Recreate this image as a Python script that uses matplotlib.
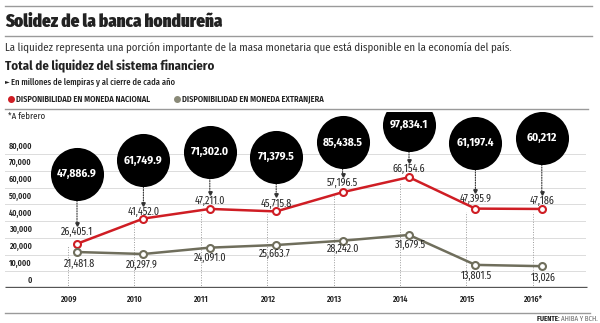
import matplotlib
matplotlib.use("Agg")
import matplotlib.pyplot as plt
from matplotlib.lines import Line2D
from matplotlib.transforms import offset_copy, blended_transform_factory

# liquidez del sistema financiero, millones de lempiras
years = ["2009", "2010", "2011", "2012", "2013", "2014", "2015", "2016*"]
nacional = [26405.1, 41452.0, 47211.0, 45715.8, 57196.5, 66154.6, 47395.9, 47186]
extranjera = [21481.8, 20297.9, 24091.0, 25663.7, 28242.0, 31679.5, 13801.5, 13026]
decimales = [1, 1, 1, 1, 1, 1, 1, 0]
yticks = [0, 10000, 20000, 30000, 40000, 50000, 60000, 70000, 80000]

total = [a + b for a, b in zip(nacional, extranjera)]

RED = "#cf1d24"
GREY = "#6f6e5c"
DARK = "#222222"
FONT = "Fira Sans Condensed"

W, H = 600, 323


def fx(x):
    return x / W


def fy(y):
    return 1 - y / H


def fmt(v, d):
    return "{:,.{}f}".format(v, d)


fig = plt.figure(figsize=(6, 3.23), dpi=100)
fig.patch.set_facecolor("white")

# separadores del encabezado y pie
for y, x0, x1 in [(6, 5, 592), (36, 5, 592), (109, 5, 588), (313, 5, 590)]:
    fig.add_artist(Line2D([fx(x0), fx(x1)], [fy(y), fy(y)], color="#9a9a9a", lw=1.0))

fig.text(fx(5), fy(22), "Solidez de la banca hondureña", family="Fira Sans Extra Condensed",
         weight="black", fontsize=13.3, color=DARK, va="center")
fig.text(fx(5), fy(47), "La liquidez representa una porción importante de la masa monetaria "
         "que está disponible en la economía del país.", family=FONT, fontsize=7.85,
         color="#333333", va="center")
fig.text(fx(5), fy(66), "Total de liquidez del sistema financiero", family=FONT,
         weight="bold", fontsize=9.2, color=DARK, va="center")
fig.text(fx(5), fy(82), "\u25ba", family="DejaVu Sans", fontsize=4.5, color=DARK, va="center")
fig.text(fx(11), fy(82), "En millones de lempiras y al cierre de cada año", family=FONT,
         weight="medium", fontsize=6.1, color=DARK, va="center")

# leyenda
for x, col, lab in [(11, RED, "DISPONIBILIDAD EN MONEDA NACIONAL"),
                    (177, "#8a8a78", "DISPONIBILIDAD EN MONEDA EXTRANJERA")]:
    fig.add_artist(Line2D([fx(x)], [fy(99)], marker="o", ms=4, color=col, mec=col))
    fig.text(fx(x + 5), fy(99), lab, family=FONT, weight="semibold", fontsize=6.05,
             color=DARK, va="center")

fig.text(fx(8), fy(116), "*A febrero", family=FONT, fontsize=6.3, color=DARK, va="center")

# pie
src = fig.text(fx(598), fy(319), "AHIBA Y BCH.", family=FONT, fontsize=5, color="#666666",
               ha="right", va="center")
fig.add_artist(plt.Annotation("FUENTE: ", xy=(0, 0.5), xycoords=src, family=FONT,
                              weight="bold", fontsize=5, color=DARK, ha="right", va="center"))

# area del grafico
y_bottom, y_top = 288, 112
px_per_unit = 16.75 / 10000
step = 66.4
x_first = 77
ax = fig.add_axes([fx(5), fy(y_bottom), fx(588) - fx(5), (y_bottom - y_top) / H])
ax.set_xlim((5 - x_first) / step, (588 - x_first) / step)
ax.set_ylim(0, (y_bottom - y_top) / px_per_unit)
ax.axis("off")

xs = list(range(len(years)))
shift = -9 / step  # guias de año un poco a la izquierda de los puntos
hx = blended_transform_factory(ax.transAxes, ax.transData)

gl_end = (585 - 5) / (588 - 5)
for v in yticks:
    ax.plot([0, gl_end], [v, v], transform=hx, color="#dcdcdc", lw=0.7, zorder=1)
    ax.annotate(fmt(v, 0), xy=((32 - 5) / (588 - 5), v), xycoords=hx,
                xytext=(0, 2.5), textcoords="offset points", ha="right", va="bottom",
                family=FONT, weight="semibold", fontsize=5.8, color=DARK)

ax.plot([0, (587 - 5) / (588 - 5)], [0, 0], transform=hx,
        color="#555555", lw=2.4, zorder=2, solid_capstyle="butt")

for i, yr in enumerate(years):
    ax.plot([i + shift, i + shift], [0, nacional[i] * 0.96], color="#9a9a9a", lw=0.7,
            ls=(0, (1, 1.6)), zorder=1)
    ax.annotate(yr, xy=(i + shift, 0), xytext=(0, -8), textcoords="offset points",
                ha="center", va="center", family=FONT, weight="semibold", fontsize=5.8,
                color=DARK)

ax.plot(xs, nacional, color=RED, lw=1.8, marker="o", ms=5, mfc="white", mec=RED, mew=1.5, zorder=4)
ax.plot(xs, extranjera, color=GREY, lw=1.8, marker="o", ms=5, mfc="white", mec=GREY, mew=1.5, zorder=4)

# desplazamientos de etiquetas (px)
red_dy = [12, 7, 8, 8, 9, 8, 10, 8]
grey_dy = [12, 11, 10, 9, 8, 10, 11, 12]
grey_dx = [3, -2, 0, -1, 0, 1, 1, 1]
bubble_y = [68060, 76120, 81490, 78210, 86870, 97310, 86570, 89550]
pt = 0.72

for i in xs:
    ax.annotate(fmt(nacional[i], decimales[i]), xy=(i, nacional[i]), xytext=(0, red_dy[i] * pt),
                textcoords="offset points", ha="center", va="center", family=FONT,
                fontsize=7.2, color=DARK, zorder=5)
    ax.annotate(fmt(extranjera[i], decimales[i]), xy=(i, extranjera[i]),
                xytext=(grey_dx[i] * pt, -grey_dy[i] * pt), textcoords="offset points",
                ha="center", va="center", family=FONT, fontsize=7.2, color=DARK, zorder=5)

    # burbuja con el total
    ax.scatter([i], [bubble_y[i]], s=1460, color="black", zorder=6, linewidths=0)
    ax.text(i, bubble_y[i], fmt(total[i], decimales[i]), ha="center", va="center",
            family=FONT, weight="bold", fontsize=8.3, color="white", zorder=7)

    tip = (red_dy[i] + 8) * pt
    top = offset_copy(ax.transData, fig=fig, y=-26.5 * pt, units="points")
    bot = offset_copy(ax.transData, fig=fig, y=tip, units="points")
    ax.annotate("", xy=(i, nacional[i]), xycoords=bot, xytext=(i, bubble_y[i]), textcoords=top,
                arrowprops=dict(arrowstyle="-", ls=(0, (1, 1.3)), lw=0.8, color="#333333",
                                shrinkA=0, shrinkB=0), zorder=5)
    ax.plot([i], [nacional[i]], transform=bot, marker="v", ms=2.5, color="#333333", zorder=5)

fig.savefig("out.png", dpi=100)
